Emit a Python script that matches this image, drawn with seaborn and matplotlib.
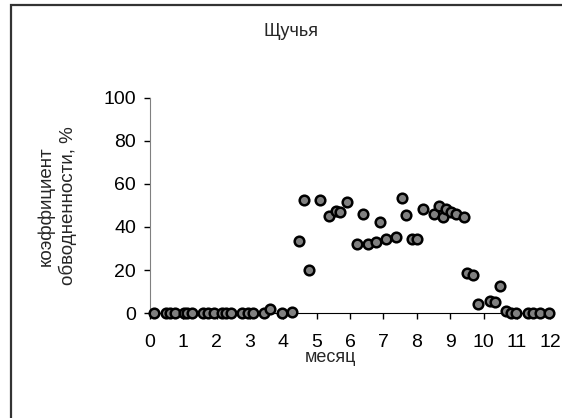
import matplotlib
matplotlib.use("Agg")
import matplotlib.pyplot as plt
from matplotlib.patches import Rectangle
import seaborn as sns
import pandas as pd

# месяц (decimal month) and коэффициент обводненности, %
month = [
    0.12, 0.48, 0.60, 0.76, 1.02, 1.10, 1.25, 1.60, 1.75, 1.92,
    2.16, 2.29, 2.43, 2.76, 2.93, 3.09, 3.43, 3.61, 3.95, 4.26,
    4.46, 4.61, 4.76, 5.09, 5.38, 5.59, 5.69, 5.92, 6.22, 6.40,
    6.54, 6.77, 6.90, 7.07, 7.39, 7.57, 7.67, 7.87, 8.02, 8.19,
    8.52, 8.67, 8.80, 8.87, 9.04, 9.17, 9.40, 9.50, 9.67, 9.83,
    10.18, 10.33, 10.50, 10.68, 10.83, 10.98, 11.33, 11.48, 11.68, 11.95,
]
water = [
    0, 0, 0, 0, 0, 0, 0, 0, 0, 0,
    0, 0, 0, 0, 0, 0, 0, 2, 0, 0.5,
    33.3, 52.4, 20.1, 52.4, 44.9, 47.6, 47.0, 51.5, 32.1, 46.2,
    32.1, 32.9, 42.5, 34.6, 35.2, 53.5, 45.4, 34.4, 34.4, 48.4,
    46.2, 49.6, 44.6, 48.4, 46.8, 46.0, 44.6, 18.6, 17.5, 4.2,
    5.4, 5.1, 12.4, 0.8, 0, 0, 0, 0, 0, 0,
]
x_ticks = list(range(0, 13))
y_ticks = [0, 20, 40, 60, 80, 100]

df = pd.DataFrame({"месяц": month, "обводненность": water})

sns.set_style("white")
plt.rcParams["font.family"] = ["Liberation Sans", "DejaVu Sans"]

fig = plt.figure(figsize=(5.62, 4.18), dpi=100)
# outer frame (left and top edges visible in the original)
fig.patches.append(Rectangle((0.019, -0.1), 1.2, 1.088, transform=fig.transFigure,
                             fill=False, edgecolor="#333333", linewidth=1.6))

ax = fig.add_axes([0.267, 0.251, 0.712, 0.515])

sns.scatterplot(
    data=df, x="месяц", y="обводненность", ax=ax,
    color="#808080", edgecolor="black", linewidth=1.8, s=48, clip_on=False, zorder=3,
)

ax.set_xlim(0, 12)
ax.set_ylim(0, 100)
ax.set_xticks(x_ticks)
ax.set_yticks(y_ticks)
ax.tick_params(axis="both", direction="out", length=4, width=1, labelsize=14,
               bottom=True, left=True, colors="black")
ax.tick_params(axis="x", pad=11)
ax.tick_params(axis="y", pad=6)
ax.spines["top"].set_visible(False)
ax.spines["right"].set_visible(False)
ax.spines["left"].set_color("#808080")
ax.spines["bottom"].set_color("black")
ax.set_xlabel("")
ax.set_ylabel("")

fig.text(330 / 562, 1 - 358 / 418, "месяц", ha="center", va="center", fontsize=13)
fig.text(57 / 562, 1 - 206 / 418, "коэффициент\nобводненности, %", rotation=90,
         ha="center", va="center", fontsize=13.5, linespacing=1.3)
fig.text(291 / 562, 1 - 32 / 418, "Щучья", ha="center", va="center", fontsize=13)

fig.savefig("out.png", dpi=100)
